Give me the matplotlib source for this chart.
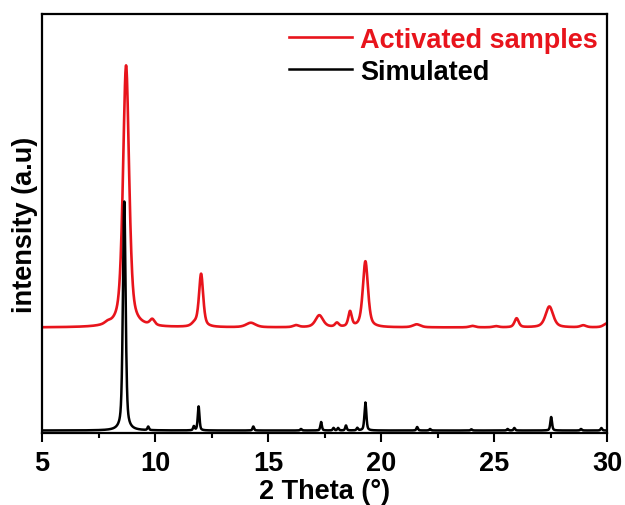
import numpy as np
import matplotlib
matplotlib.use('Agg')
import matplotlib.pyplot as plt
from matplotlib.ticker import MultipleLocator

# 2theta grid
two_theta = np.arange(5.0, 30.0001, 0.01)

# Activated samples: peak positions (deg), heights (a.u.), widths (deg)
act_pos = [7.9, 8.72, 9.88, 11.75, 12.04, 14.24, 16.24, 17.27, 18.05, 18.63, 19.31,
           21.58, 24.04, 25.08, 26.0, 27.45, 28.95, 30.0]
act_height = [2, 262, 6, 3, 53, 4.5, 2, 12, 4, 15, 66, 3, 1.5, 1.2, 9, 21, 2, 4]
act_fwhm = [0.3, 0.32, 0.25, 0.3, 0.22, 0.5, 0.3, 0.4, 0.2, 0.18, 0.27, 0.4, 0.3,
            0.3, 0.22, 0.4, 0.3, 0.35]
act_offset = 105.5

# Simulated pattern
sim_pos = [8.64, 9.70, 11.72, 11.93, 14.35, 16.46, 17.35, 17.9, 18.1, 18.45, 18.95,
           19.31, 21.6, 22.17, 24.0, 25.6, 25.9, 27.53, 28.85, 29.75]
sim_height = [229, 3.5, 4, 24, 4, 1.5, 8.5, 2.5, 2.5, 5, 2.5, 28, 3.5, 1.5, 1.2, 1.5,
              2.5, 13.5, 1.5, 2.5]
sim_fwhm = [0.14, 0.08, 0.08, 0.09, 0.08, 0.08, 0.08, 0.08, 0.08, 0.08, 0.08, 0.1,
            0.08, 0.08, 0.08, 0.08, 0.08, 0.09, 0.08, 0.08]
sim_offset = 2.5

series_labels = ['Activated samples', 'Simulated']
x_ticks = [5, 10, 15, 20, 25, 30]


def pattern(x, pos, height, fwhm, eta=0.55):
    y = np.zeros_like(x)
    for p, h, w in zip(pos, height, fwhm):
        g = np.exp(-4 * np.log(2) * ((x - p) / w) ** 2)
        l = 1.0 / (1.0 + 4 * ((x - p) / w) ** 2)
        y += h * (eta * l + (1 - eta) * g)
    return y


act = pattern(two_theta, act_pos, act_height, act_fwhm) + act_offset
sim = pattern(two_theta, sim_pos, sim_height, sim_fwhm, eta=0.5) + sim_offset

plt.rcParams['font.family'] = ['Liberation Sans', 'DejaVu Sans']
plt.rcParams['font.weight'] = 'bold'

fig = plt.figure(figsize=(6.25, 5.06), dpi=100)
ax = fig.add_axes([42 / 625, (506 - 434) / 506, (607 - 42) / 625, (434 - 15) / 506])

red = '#e8141c'
ax.plot(two_theta, act, color=red, lw=1.9, label=series_labels[0])
ax.plot(two_theta, sim, color='black', lw=1.8, label=series_labels[1])

ax.set_xlim(5, 30)
ax.set_ylim(0, 419)
ax.set_xticks(x_ticks)
ax.xaxis.set_minor_locator(MultipleLocator(2.5))
ax.set_yticks([])
ax.tick_params(axis='x', which='major', direction='out', length=6.5, width=1.5,
               labelsize=19.5, pad=6, top=False)
ax.tick_params(axis='x', which='minor', direction='out', length=3.5, width=1.5, top=False)
for lab in ax.get_xticklabels():
    lab.set_fontweight('bold')
for s in ax.spines.values():
    s.set_linewidth(1.6)

ax.set_xlabel('2 Theta (°)', fontsize=19.5, fontweight='bold', labelpad=1)
ax.set_ylabel('intensity (a.u)', fontsize=19.5, fontweight='bold', labelpad=3)

leg = ax.legend(loc='upper right', bbox_to_anchor=(1.012, 1.008), frameon=False,
                handlelength=2.3, handletextpad=0.3, labelspacing=0.22,
                borderaxespad=0.2, prop={'weight': 'bold', 'size': 19.5})
for t, c in zip(leg.get_texts(), [red, 'black']):
    t.set_color(c)

fig.savefig('out.png', dpi=100)
